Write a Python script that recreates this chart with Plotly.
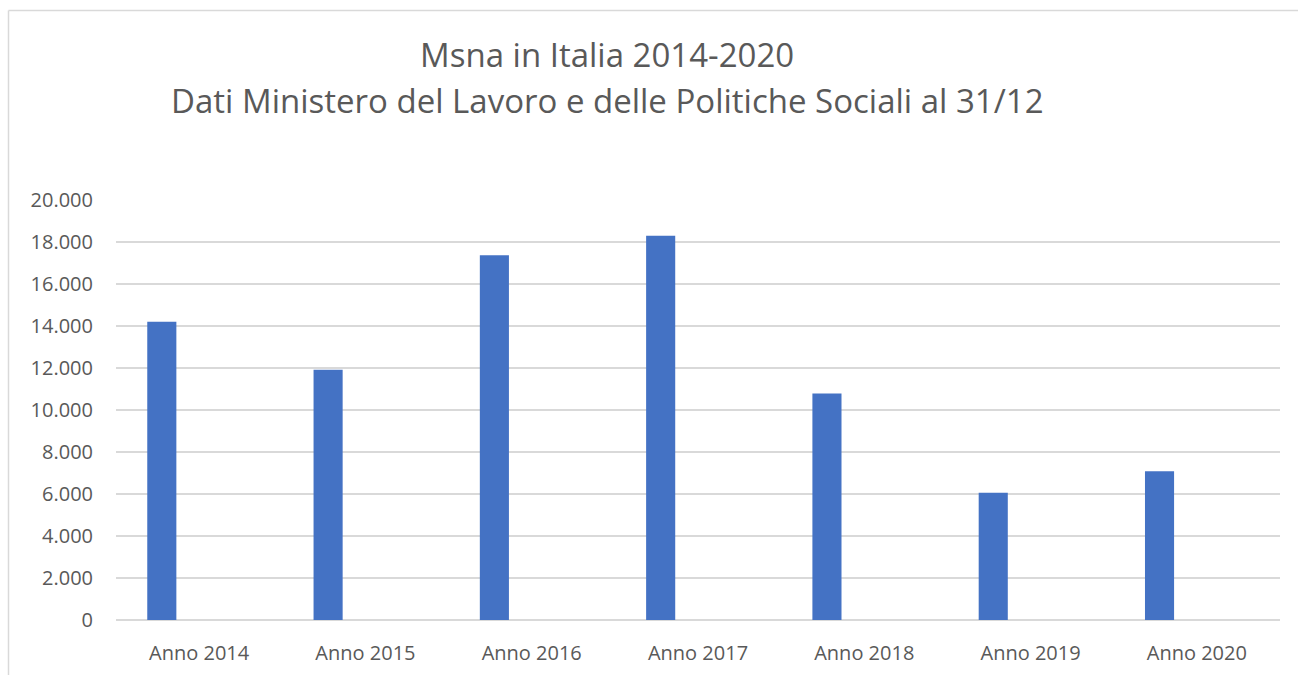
import plotly.graph_objects as go

# Minori stranieri non accompagnati presenti in Italia al 31/12
anni = ["Anno 2014", "Anno 2015", "Anno 2016", "Anno 2017", "Anno 2018", "Anno 2019", "Anno 2020"]
msna = [14206, 11921, 17373, 18303, 10787, 6054, 7080]

y_ticks = [0, 2000, 4000, 6000, 8000, 10000, 12000, 14000, 16000, 18000, 20000]
y_tick_labels = ["0", "2.000", "4.000", "6.000", "8.000", "10.000", "12.000",
                 "14.000", "16.000", "18.000", "20.000"]

title_line1 = "Msna in Italia 2014-2020"
title_line2 = "Dati Ministero del Lavoro e delle Politiche Sociali al 31/12"

W, H = 1298, 675
L, R, T, B = 116, 18, 200, 55
pw, ph = W - L - R, H - T - B

font_main = "Open Sans, DejaVu Sans, sans-serif"
grey = "#595959"
grid = "#d9d9d9"

fig = go.Figure(
    go.Bar(
        x=anni,
        y=msna,
        marker=dict(color="#4472c4", line=dict(width=0)),
        width=0.175,
        offset=-0.312,
        hoverinfo="x+y",
    )
)

def px_x(p):
    return (p - L) / pw

def px_y(p):
    return (H - B - p) / ph

fig.update_layout(
    width=W,
    height=H,
    margin=dict(l=L, r=R, t=T, b=B, autoexpand=False),
    paper_bgcolor="white",
    plot_bgcolor="white",
    showlegend=False,
    font=dict(family=font_main, color=grey),
    xaxis=dict(
        type="category",
        automargin=False,
        showgrid=False,
        showline=False,
        ticks="",
        tickfont=dict(size=20, color=grey, family=font_main),
        ticklabelstandoff=19,
        range=[-0.5, 6.5],
        fixedrange=True,
    ),
    yaxis=dict(
        range=[0, 20000],
        automargin=False,
        tickvals=y_ticks,
        ticktext=y_tick_labels,
        showgrid=True,
        gridcolor=grid,
        gridwidth=1.5,
        zeroline=True,
        zerolinecolor=grid,
        zerolinewidth=1.5,
        showline=False,
        ticks="",
        tickfont=dict(size=20, color=grey, family=font_main),
        ticklabelstandoff=22,
        fixedrange=True,
    ),
    annotations=[
        dict(text=title_line1, x=px_x(607), y=px_y(55), xref="paper", yref="paper",
             xanchor="center", yanchor="middle", showarrow=False,
             font=dict(size=33, color=grey, family=font_main)),
        dict(text=title_line2, x=px_x(607), y=px_y(101), xref="paper", yref="paper",
             xanchor="center", yanchor="middle", showarrow=False,
             font=dict(size=33, color=grey, family=font_main)),
    ],
    shapes=[
        dict(type="line", xref="paper", yref="paper",
             x0=px_x(8.5), x1=px_x(W), y0=px_y(10.5), y1=px_y(10.5),
             line=dict(color="#d9d9d9", width=1.5)),
        dict(type="line", xref="paper", yref="paper",
             x0=px_x(8.5), x1=px_x(8.5), y0=px_y(10.5), y1=px_y(H),
             line=dict(color="#d9d9d9", width=1.5)),
    ],
)

fig.write_html("out.html")
